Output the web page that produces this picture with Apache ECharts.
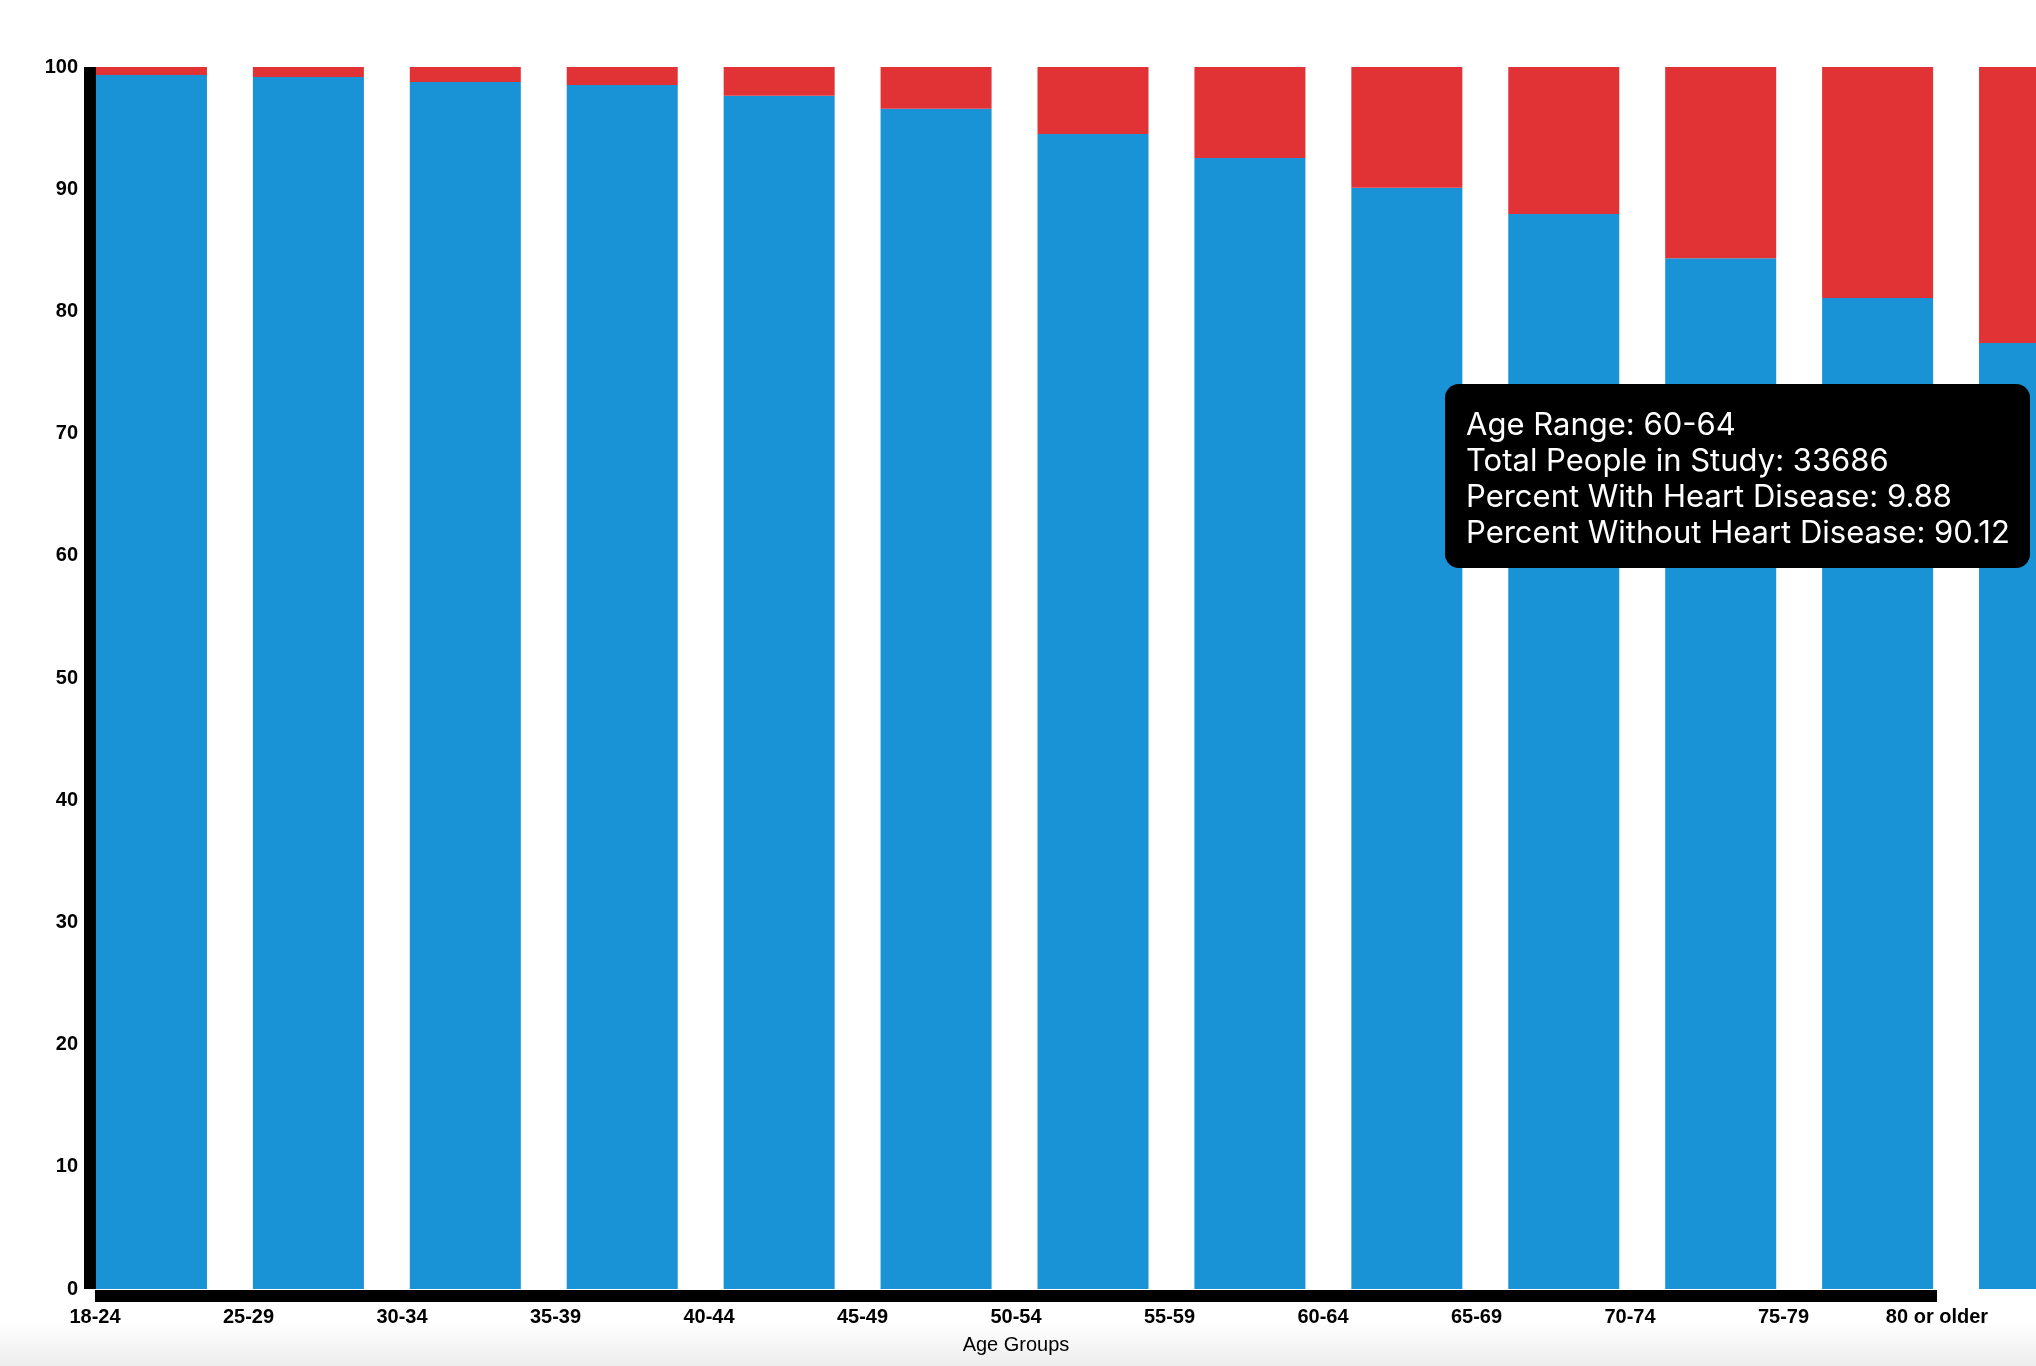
<!DOCTYPE html>
<html>
<head>
<meta charset="utf-8">
<script src="https://cdn.jsdelivr.net/npm/echarts@6/dist/echarts.min.js"></script>
<style>
  html, body { margin: 0; padding: 0; width: 2036px; height: 1366px; overflow: hidden;
    background: linear-gradient(to bottom, #ffffff 0px, #ffffff 1322px, #ededed 1366px); }
  #chart { width: 2036px; height: 1366px; }
</style>
</head>
<body>
<div id="chart"></div>
<script>
const ageGroups = ['18-24','25-29','30-34','35-39','40-44','45-49','50-54','55-59','60-64','65-69','70-74','75-79','80 or older'];
const pctWithout = [99.35, 99.18, 98.77, 98.53, 97.65, 96.59, 94.52, 92.55, 90.12, 87.97, 84.34, 81.10, 77.41];
const pctWith = [0.65, 0.82, 1.23, 1.47, 2.35, 3.41, 5.48, 7.45, 9.88, 12.03, 15.66, 18.90, 22.59];
const totalPeople = { '60-64': 33686 };
const yTicks = [0, 10, 20, 30, 40, 50, 60, 70, 80, 90, 100];

const chart = echarts.init(document.getElementById('chart'), null, { renderer: 'canvas' });
const axisFont = { fontFamily: '"Liberation Sans", Arial, Helvetica, sans-serif', fontWeight: 'bold', fontSize: 20, color: '#000' };

const option = {
  animation: false,
  grid: [
    { left: 90, top: 67, height: 1222, width: 100, outerBoundsMode: 'none', containLabel: false },
    { left: 73, top: 67, height: 1222, width: 2040, outerBoundsMode: 'none', containLabel: false },
    { left: 95, top: 1200, height: 95.5, width: 1842, outerBoundsMode: 'none', containLabel: false }
  ],
  xAxis: [
    { gridIndex: 0, type: 'value', show: false },
    { gridIndex: 1, type: 'category', data: ageGroups, show: false },
    { gridIndex: 2, type: 'category', data: ageGroups, boundaryGap: false,
      axisLine: { show: true, lineStyle: { color: '#000', width: 12, cap: 'butt' } },
      axisTick: { show: false },
      axisLabel: Object.assign({ interval: 0, margin: 12 }, axisFont),
      name: 'Age Groups', nameLocation: 'middle', nameGap: 40,
      nameTextStyle: { fontFamily: '"Liberation Sans", Arial, Helvetica, sans-serif', fontSize: 20, color: '#000' }
    }
  ],
  yAxis: [
    { gridIndex: 0, type: 'value', min: yTicks[0], max: yTicks[yTicks.length - 1], interval: 10,
      axisLine: { show: true, lineStyle: { color: '#000', width: 12, cap: 'butt' } },
      axisTick: { show: false }, splitLine: { show: false },
      axisLabel: Object.assign({ margin: 12 }, axisFont) },
    { gridIndex: 1, type: 'value', min: 0, max: 100, show: false, splitLine: { show: false } },
    { gridIndex: 2, type: 'value', show: false, splitLine: { show: false } }
  ],
  tooltip: {
    trigger: 'item',
    triggerOn: 'none',
    alwaysShowContent: true,
    transitionDuration: 0,
    backgroundColor: '#000',
    borderWidth: 0,
    padding: [22, 20, 18, 21],
    textStyle: { color: '#fff', fontFamily: 'Inter, "Noto Sans", sans-serif', fontSize: 31, lineHeight: 36 },
    extraCssText: 'border-radius:14px;box-shadow:none;line-height:36px;',
    position: function () { return [1445, 384]; },
    formatter: function (p) {
      const i = p.dataIndex;
      const g = ageGroups[i];
      return 'Age Range: ' + g + '<br/>' +
        'Total People in Study: ' + (totalPeople[g] !== undefined ? totalPeople[g] : '') + '<br/>' +
        'Percent With Heart Disease: ' + pctWith[i].toFixed(2) + '<br/>' +
        'Percent Without Heart Disease: ' + pctWithout[i].toFixed(2);
    }
  },
  series: [
    { name: 'Without Heart Disease', type: 'bar', stack: 'total', xAxisIndex: 1, yAxisIndex: 1,
      barWidth: 111, itemStyle: { color: '#1992d6' }, data: pctWithout },
    { name: 'With Heart Disease', type: 'bar', stack: 'total', xAxisIndex: 1, yAxisIndex: 1,
      barWidth: 111, itemStyle: { color: '#e13236' }, data: pctWith }
  ]
};
chart.setOption(option);
chart.dispatchAction({ type: 'showTip', seriesIndex: 0, dataIndex: 8 });
</script>
</body>
</html>
